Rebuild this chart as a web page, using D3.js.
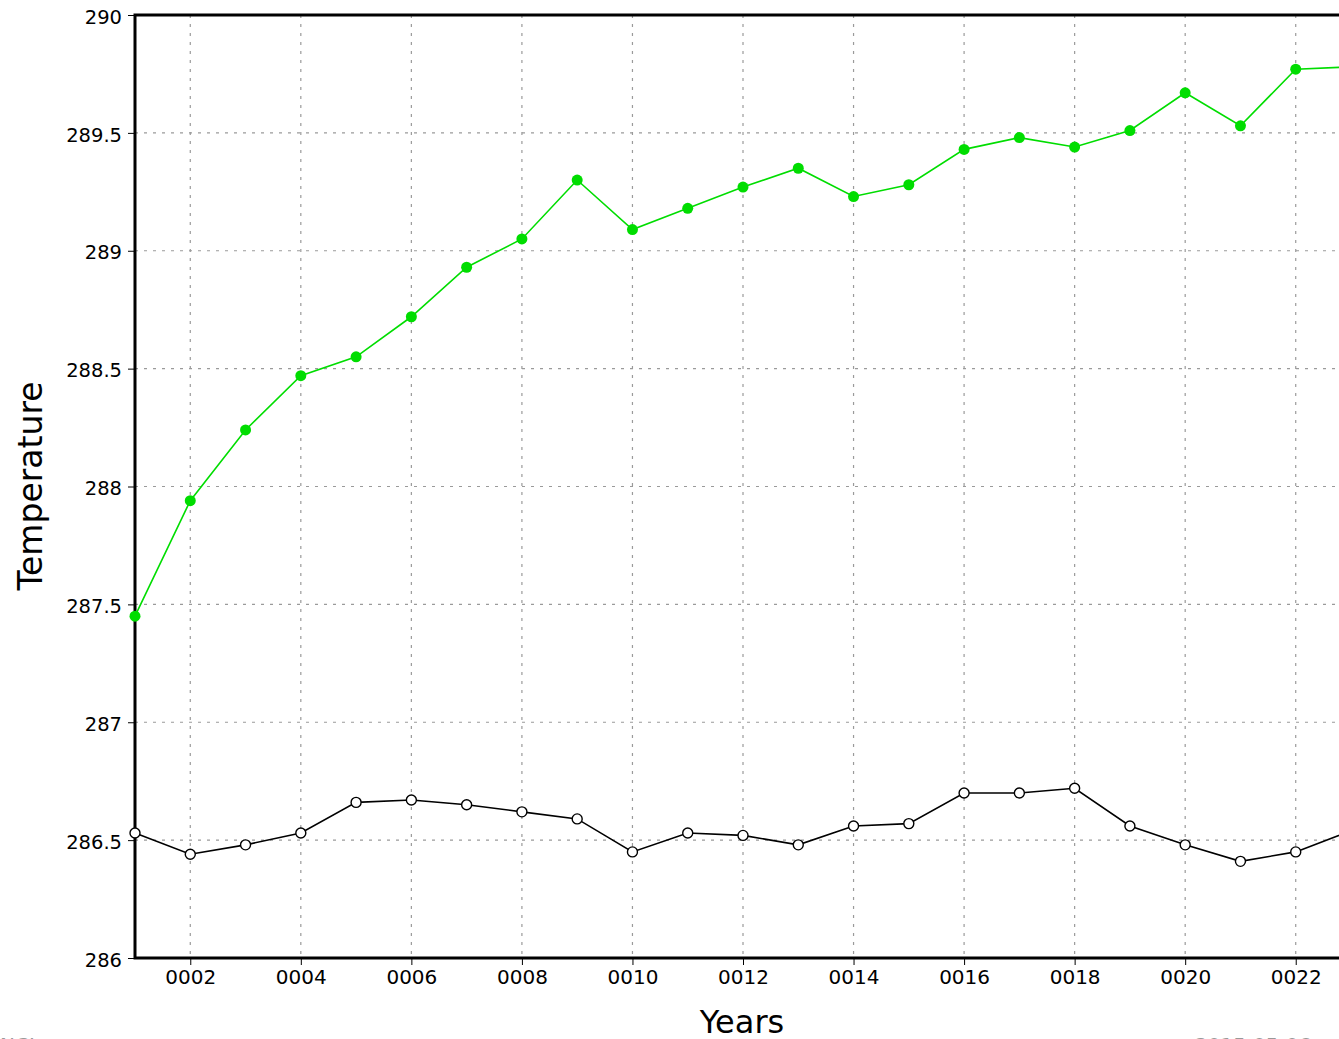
<!DOCTYPE html>
<html>
<head>
<meta charset="utf-8">
<script src="https://cdn.jsdelivr.net/npm/d3@7"></script>
<style>
  body { margin: 0; background: #fff; }
  svg { display: block; }
  text { font-family: "DejaVu Sans", sans-serif; }
</style>
</head>
<body>
<svg id="chart" width="1339" height="1039"></svg>
<script>
// years 1..23
var years = d3.range(1, 24);
var greenTemp = [287.45, 287.94, 288.24, 288.47, 288.55, 288.72, 288.93, 289.05, 289.30, 289.09,
                 289.18, 289.27, 289.35, 289.23, 289.28, 289.43, 289.48, 289.44, 289.51, 289.67,
                 289.53, 289.77, 289.78];
var blackTemp = [286.53, 286.44, 286.48, 286.53, 286.66, 286.67, 286.65, 286.62, 286.59, 286.45,
                 286.53, 286.52, 286.48, 286.56, 286.57, 286.70, 286.70, 286.72, 286.56, 286.48,
                 286.41, 286.45, 286.54];
var yTicks = [286, 286.5, 287, 287.5, 288, 288.5, 289, 289.5, 290];
var xTicks = [2, 4, 6, 8, 10, 12, 14, 16, 18, 20, 22];

var svg = d3.select("#chart");

var plotL = 135, plotT = 15, plotB = 958, plotR = 1351;

var x = d3.scaleLinear().domain([1, 23]).range([plotL, plotR]);
var y = d3.scaleLinear().domain([286, 290]).range([plotB, plotT]);

// grid
var grid = svg.append("g").attr("stroke", "#9a9a9a").attr("stroke-width", 1.2)
  .attr("stroke-dasharray", "3,6");
grid.selectAll("line.h").data(yTicks.slice(1, -1)).enter().append("line")
  .attr("x1", plotL).attr("x2", plotR)
  .attr("y1", function (d) { return y(d); }).attr("y2", function (d) { return y(d); });
grid.selectAll("line.v").data(xTicks).enter().append("line")
  .attr("y1", plotT).attr("y2", plotB)
  .attr("x1", function (d) { return x(d); }).attr("x2", function (d) { return x(d); });

// axes
var yAxis = d3.axisLeft(y).tickValues(yTicks).tickSize(7).tickPadding(6)
  .tickFormat(function (d) { return d3.format("")(d); });
var gy = svg.append("g").attr("transform", "translate(" + plotL + ",0)").call(yAxis);
gy.select(".domain").remove();
gy.selectAll("text").attr("font-size", 19.5).attr("fill", "#000").attr("dy", "0.42em");

var xAxis = d3.axisBottom(x).tickValues(xTicks).tickSize(7).tickPadding(5)
  .tickFormat(function (d) { return d3.format("04d")(d); });
var gx = svg.append("g").attr("transform", "translate(0," + plotB + ")").call(xAxis);
gx.select(".domain").remove();
gx.selectAll("text").attr("font-size", 20).attr("fill", "#000");

// frame
svg.append("path")
  .attr("d", "M" + plotR + "," + plotT + "H" + plotL + "V" + plotB + "H" + plotR)
  .attr("fill", "none").attr("stroke", "#000").attr("stroke-width", 3);

// series
var line = d3.line()
  .x(function (d, i) { return x(years[i]); })
  .y(function (d) { return y(d); });

svg.append("path").datum(greenTemp).attr("d", line)
  .attr("fill", "none").attr("stroke", "#00dd00").attr("stroke-width", 1.6);
svg.selectAll("circle.g").data(greenTemp).enter().append("circle")
  .attr("class", "g")
  .attr("cx", function (d, i) { return x(years[i]); })
  .attr("cy", function (d) { return y(d); })
  .attr("r", 5.5).attr("fill", "#00dd00");

svg.append("path").datum(blackTemp).attr("d", line)
  .attr("fill", "none").attr("stroke", "#000").attr("stroke-width", 1.6);
svg.selectAll("circle.b").data(blackTemp).enter().append("circle")
  .attr("class", "b")
  .attr("cx", function (d, i) { return x(years[i]); })
  .attr("cy", function (d) { return y(d); })
  .attr("r", 5).attr("fill", "#fff").attr("stroke", "#000").attr("stroke-width", 1.4);

// titles
svg.append("text").attr("x", 742).attr("y", 1033).attr("text-anchor", "middle")
  .attr("font-size", 32).text("Years");
svg.append("text").attr("transform", "translate(42,486) rotate(-90)")
  .attr("text-anchor", "middle").attr("font-size", 33).text("Temperature");

// clipped footer texts
svg.append("text").attr("x", 0).attr("y", 1052).attr("font-size", 20).attr("fill", "#999").text("NCL");
svg.append("text").attr("x", 1195).attr("y", 1052).attr("font-size", 20).attr("fill", "#999").text("2015-05-06");
</script>
</body>
</html>
